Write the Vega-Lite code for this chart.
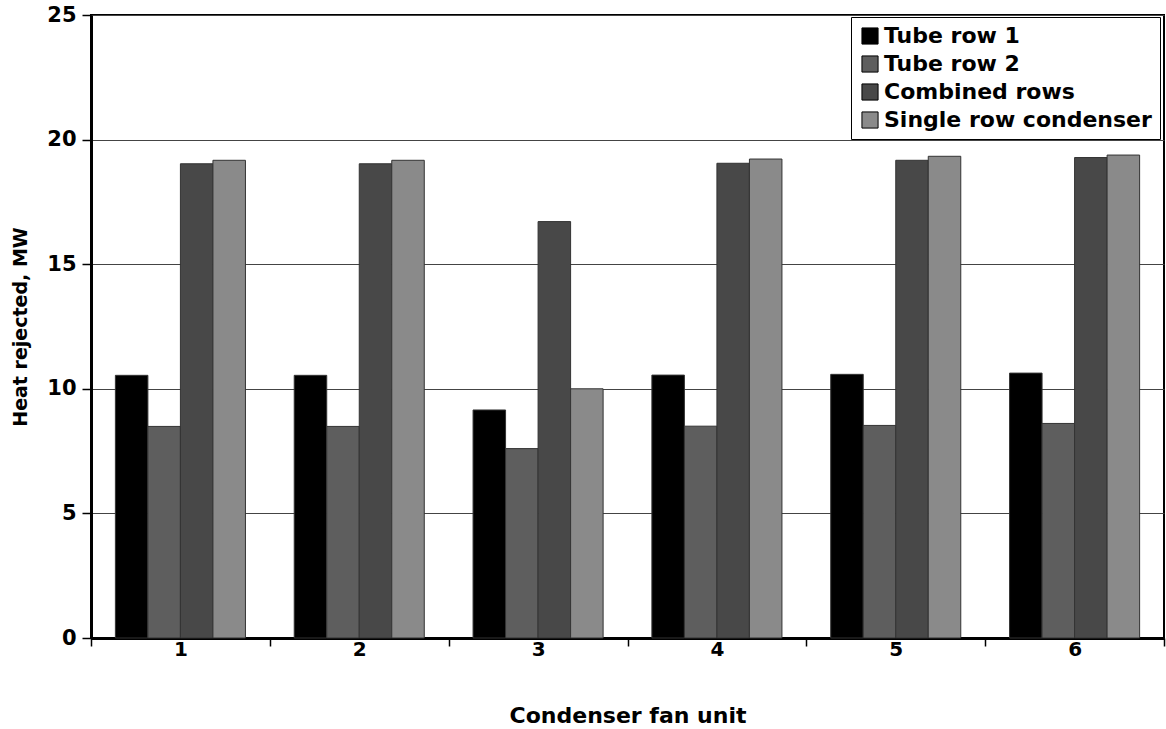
{
  "$schema": "https://vega.github.io/schema/vega-lite/v6.json",
  "width": 1073,
  "height": 623,
  "autosize": {"type": "none"},
  "padding": {"left": 91, "top": 15, "right": 2, "bottom": 91},
  "background": "white",
  "config": {
    "font": "DejaVu Sans",
    "view": {"stroke": "black", "strokeWidth": 2}
  },
  "data": {
    "values": [
      {"unit": "1", "series": "Tube row 1", "mw": 10.54},
      {"unit": "1", "series": "Tube row 2", "mw": 8.49},
      {"unit": "1", "series": "Combined rows", "mw": 19.03},
      {"unit": "1", "series": "Single row condenser", "mw": 19.17},
      {"unit": "2", "series": "Tube row 1", "mw": 10.54},
      {"unit": "2", "series": "Tube row 2", "mw": 8.49},
      {"unit": "2", "series": "Combined rows", "mw": 19.03},
      {"unit": "2", "series": "Single row condenser", "mw": 19.17},
      {"unit": "3", "series": "Tube row 1", "mw": 9.15},
      {"unit": "3", "series": "Tube row 2", "mw": 7.6},
      {"unit": "3", "series": "Combined rows", "mw": 16.71},
      {"unit": "3", "series": "Single row condenser", "mw": 10.0},
      {"unit": "4", "series": "Tube row 1", "mw": 10.55},
      {"unit": "4", "series": "Tube row 2", "mw": 8.5},
      {"unit": "4", "series": "Combined rows", "mw": 19.05},
      {"unit": "4", "series": "Single row condenser", "mw": 19.22},
      {"unit": "5", "series": "Tube row 1", "mw": 10.58},
      {"unit": "5", "series": "Tube row 2", "mw": 8.53},
      {"unit": "5", "series": "Combined rows", "mw": 19.17},
      {"unit": "5", "series": "Single row condenser", "mw": 19.33},
      {"unit": "6", "series": "Tube row 1", "mw": 10.63},
      {"unit": "6", "series": "Tube row 2", "mw": 8.61},
      {"unit": "6", "series": "Combined rows", "mw": 19.28},
      {"unit": "6", "series": "Single row condenser", "mw": 19.38}
    ]
  },
  "mark": {"type": "bar", "stroke": "#333333", "strokeWidth": 1},
  "encoding": {
    "x": {
      "field": "unit",
      "type": "ordinal",
      "scale": {"paddingInner": 0, "paddingOuter": 0},
      "axis": {
        "title": "Condenser fan unit",
        "titleFontSize": 22,
        "titleFontWeight": "bold",
        "titleColor": "black",
        "titlePadding": 46,
        "labelAngle": 0,
        "labelFontSize": 20,
        "labelFontWeight": "bold",
        "labelColor": "black",
        "labelPadding": -7,
        "tickBand": "extent",
        "tickSize": 8,
        "tickColor": "black",
        "tickWidth": 1.5,
        "domainColor": "black",
        "domainWidth": 3,
        "grid": false
      }
    },
    "xOffset": {
      "field": "series",
      "sort": ["Tube row 1", "Tube row 2", "Combined rows", "Single row condenser"],
      "scale": {"paddingInner": 0, "paddingOuter": 0.75}
    },
    "y": {
      "field": "mw",
      "type": "quantitative",
      "scale": {"domain": [0, 25], "nice": false},
      "axis": {
        "title": "Heat rejected, MW",
        "titleFontSize": 19,
        "titleFontWeight": "bold",
        "titleColor": "black",
        "titlePadding": 16,
        "values": [0, 5, 10, 15, 20, 25],
        "labelFontSize": 21,
        "labelFontWeight": "bold",
        "labelColor": "black",
        "labelPadding": 6,
        "tickSize": 9,
        "tickColor": "black",
        "tickWidth": 1.5,
        "domainColor": "black",
        "domainWidth": 3,
        "grid": true,
        "gridColor": "#444444",
        "gridWidth": 1
      }
    },
    "color": {
      "field": "series",
      "type": "nominal",
      "sort": ["Tube row 1", "Tube row 2", "Combined rows", "Single row condenser"],
      "scale": {
        "domain": ["Tube row 1", "Tube row 2", "Combined rows", "Single row condenser"],
        "range": ["#000000", "#5e5e5e", "#484848", "#8a8a8a"]
      },
      "legend": {
        "title": null,
        "orient": "none",
        "legendX": 760,
        "legendY": 2,
        "strokeColor": "black",
        "fillColor": "white",
        "padding": 8,
        "symbolType": "square",
        "symbolSize": 260,
        "symbolStrokeColor": "black",
        "symbolStrokeWidth": 1,
        "symbolOpacity": 1,
        "labelFontSize": 22,
        "labelFontWeight": "bold",
        "labelColor": "black",
        "labelLimit": 400,
        "rowPadding": 6,
        "labelOffset": 3
      }
    }
  }
}
